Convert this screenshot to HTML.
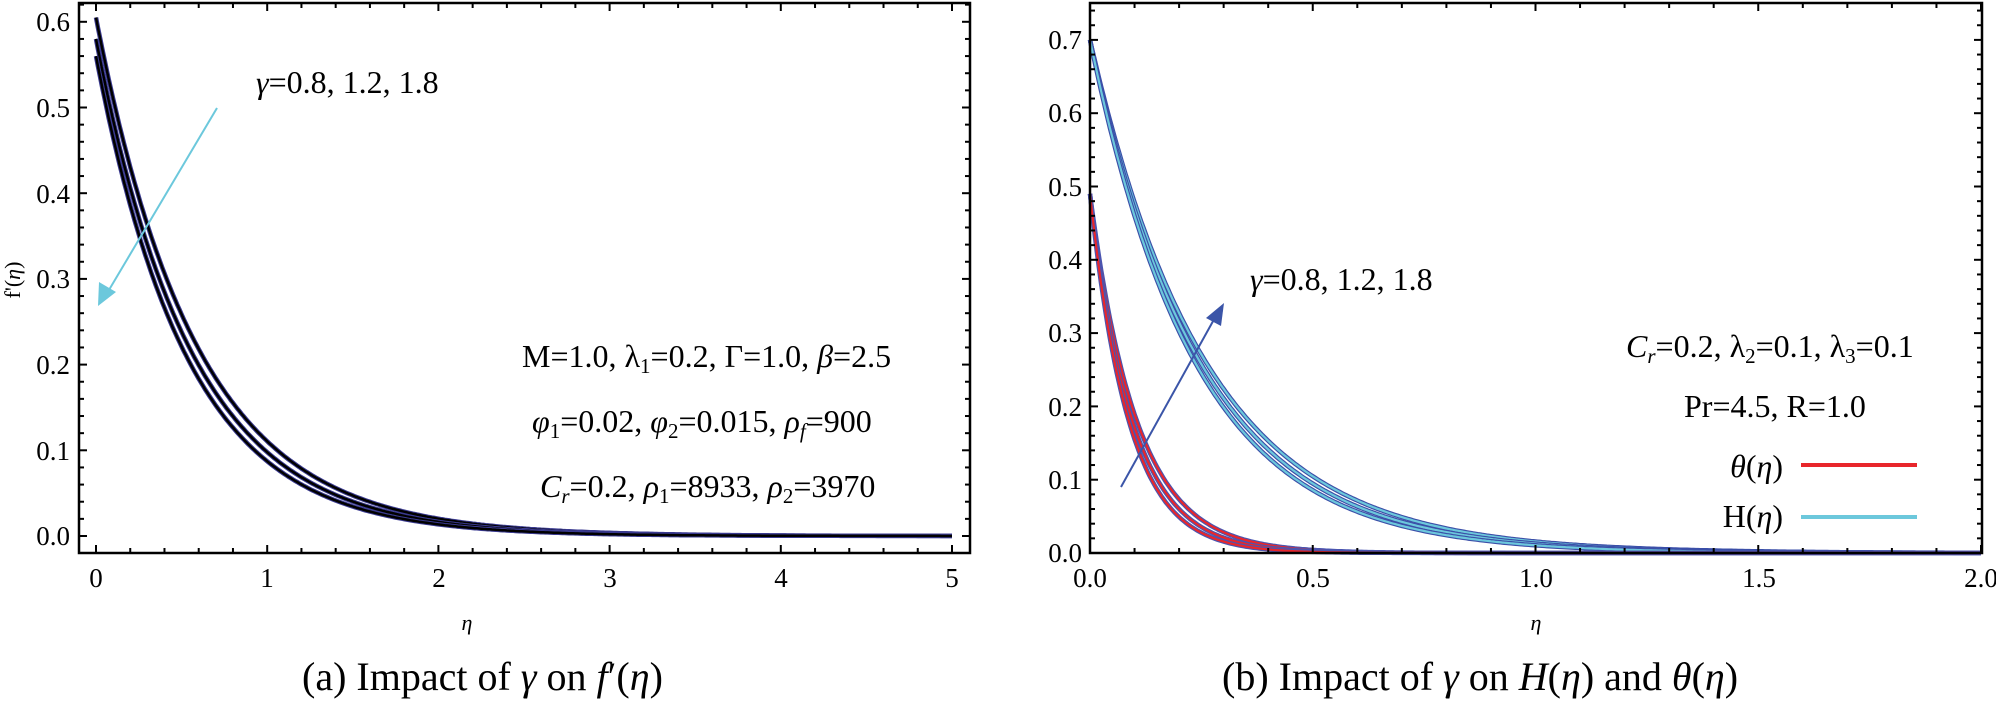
<!DOCTYPE html>
<html><head><meta charset="utf-8">
<style>
html,body{margin:0;padding:0;background:#fff;}
svg{display:block;}
text{font-family:"Liberation Serif","DejaVu Serif",serif;fill:#000;}
.tk{font-size:27px;}
.an{font-size:32px;}
.cap{font-size:40px;}
</style></head><body>
<svg id="s" width="1996" height="701" xmlns="http://www.w3.org/2000/svg">
<g id="curves"></g>
<g id="axes" stroke="#000" stroke-width="2" fill="none"></g>
<rect x="79" y="3" width="891" height="550" fill="none" stroke="#000" stroke-width="2.5"/>
<rect x="1090" y="3" width="892" height="550" fill="none" stroke="#000" stroke-width="2.5"/>
<g class="tk" text-anchor="end">
<text x="70" y="545">0.0</text><text x="70" y="460">0.1</text><text x="70" y="374">0.2</text>
<text x="70" y="288">0.3</text><text x="70" y="203">0.4</text><text x="70" y="117">0.5</text><text x="70" y="31">0.6</text>
</g>
<g class="tk" text-anchor="middle">
<text x="96" y="587">0</text><text x="267" y="587">1</text><text x="439" y="587">2</text>
<text x="610" y="587">3</text><text x="781" y="587">4</text><text x="952" y="587">5</text>
</g>
<text x="467" y="630" font-size="22" font-style="italic" text-anchor="middle">η</text>
<text transform="translate(20,280) rotate(-90)" font-size="22" text-anchor="middle">f'(<tspan font-style="italic">η</tspan>)</text>
<g class="tk" text-anchor="end">
<text x="1082" y="562">0.0</text><text x="1082" y="489">0.1</text><text x="1082" y="416">0.2</text>
<text x="1082" y="342">0.3</text><text x="1082" y="269">0.4</text><text x="1082" y="196">0.5</text>
<text x="1082" y="122">0.6</text><text x="1082" y="49">0.7</text>
</g>
<g class="tk" text-anchor="middle">
<text x="1090" y="587">0.0</text><text x="1313" y="587">0.5</text><text x="1536" y="587">1.0</text>
<text x="1759" y="587">1.5</text><text x="1981" y="587">2.0</text>
</g>
<text x="1536" y="630" font-size="22" font-style="italic" text-anchor="middle">η</text>
<text class="an" x="256" y="93"><tspan font-style="italic">γ</tspan>=0.8, 1.2, 1.8</text>
<text class="an" x="522" y="367">M=1.0, λ<tspan font-size="21" dy="6">1</tspan><tspan dy="-6">=0.2, Γ=1.0, </tspan><tspan font-style="italic">β</tspan>=2.5</text>
<text class="an" x="532" y="432"><tspan font-style="italic">φ</tspan><tspan font-size="21" dy="6">1</tspan><tspan dy="-6">=0.02, </tspan><tspan font-style="italic">φ</tspan><tspan font-size="21" dy="6">2</tspan><tspan dy="-6">=0.015, </tspan><tspan font-style="italic">ρ</tspan><tspan font-size="21" dy="6" font-style="italic">f</tspan><tspan dy="-6">=900</tspan></text>
<text class="an" x="540" y="497"><tspan font-style="italic">C</tspan><tspan font-size="21" dy="6" font-style="italic">r</tspan><tspan dy="-6">=0.2, </tspan><tspan font-style="italic">ρ</tspan><tspan font-size="21" dy="6">1</tspan><tspan dy="-6">=8933, </tspan><tspan font-style="italic">ρ</tspan><tspan font-size="21" dy="6">2</tspan><tspan dy="-6">=3970</tspan></text>
<text class="an" x="1250" y="290"><tspan font-style="italic">γ</tspan>=0.8, 1.2, 1.8</text>
<text class="an" x="1626" y="357"><tspan font-style="italic">C</tspan><tspan font-size="21" dy="6" font-style="italic">r</tspan><tspan dy="-6">=0.2, λ</tspan><tspan font-size="21" dy="6">2</tspan><tspan dy="-6">=0.1, λ</tspan><tspan font-size="21" dy="6">3</tspan><tspan dy="-6">=0.1</tspan></text>
<text class="an" x="1684" y="417">Pr=4.5, R=1.0</text>
<text class="an" x="1783" y="477" text-anchor="end"><tspan font-style="italic">θ</tspan>(<tspan font-style="italic">η</tspan>)</text>
<text class="an" x="1783" y="527" text-anchor="end">H(<tspan font-style="italic">η</tspan>)</text>
<line x1="1801" y1="465" x2="1917" y2="465" stroke="#e8262b" stroke-width="4"/>
<line x1="1801" y1="517" x2="1917" y2="517" stroke="#6cc8dc" stroke-width="4"/>
<line x1="217" y1="108" x2="106" y2="295" stroke="#6cc8dc" stroke-width="2"/>
<polygon points="98,306 99,282 116,292" fill="#6cc8dc"/>
<line x1="1121" y1="487" x2="1217" y2="314" stroke="#3b55a8" stroke-width="2"/>
<polygon points="1224,303 1206,318 1221,326" fill="#3b55a8"/>
<text class="cap" x="302" y="690">(a) Impact of <tspan font-style="italic">γ</tspan> on <tspan font-style="italic">f</tspan>′(<tspan font-style="italic">η</tspan>)</text>
<text class="cap" x="1222" y="690">(b) Impact of <tspan font-style="italic">γ</tspan> on <tspan font-style="italic">H</tspan>(<tspan font-style="italic">η</tspan>) and <tspan font-style="italic">θ</tspan>(<tspan font-style="italic">η</tspan>)</text>
</svg>
<script>
(function(){
var NS="http://www.w3.org/2000/svg";
var cg=document.getElementById("curves"), ag=document.getElementById("axes");
function el(p,t,a){var e=document.createElementNS(NS,t);for(var k in a)e.setAttribute(k,a[k]);p.appendChild(e);return e;}
function path(f,x0,x1,X,Y){var d="";for(var i=0;i<=400;i++){var x=x0+(x1-x0)*i/400;d+=(i?"L":"M")+X(x).toFixed(1)+","+Y(f(x)).toFixed(1);}return d;}
var LX=function(x){return 96+171.2*x}, LY=function(y){return 536-857*y};
[[0.605,1.70],[0.58,1.78],[0.56,1.86]].forEach(function(p){
 var d=path(function(x){return p[0]*Math.exp(-p[1]*x)},0,5,LX,LY);
 el(cg,"path",{d:d,stroke:"#3a3a90","stroke-width":4.5,fill:"none"});
 el(cg,"path",{d:d,stroke:"#000","stroke-width":2.5,fill:"none"});
});
var RX=function(x){return 1090+445.5*x}, RY=function(y){return 553-733*y};
[[0.70,3.8],[0.70,4.0],[0.70,4.2]].forEach(function(p){
 var d=path(function(x){return p[0]*Math.exp(-p[1]*x)},0,2,RX,RY);
 el(cg,"path",{d:d,stroke:"#3b4fa8","stroke-width":4.5,fill:"none"});
 el(cg,"path",{d:d,stroke:"#6cc8dc","stroke-width":2.2,fill:"none"});
});
[[0.49,9.5],[0.49,10.5],[0.49,11.5]].forEach(function(p){
 var d=path(function(x){return p[0]*Math.exp(-p[1]*x)},0,2,RX,RY);
 el(cg,"path",{d:d,stroke:"#4a55b0","stroke-width":4.5,fill:"none"});
 el(cg,"path",{d:d,stroke:"#e8262b","stroke-width":2.2,fill:"none"});
});
for(var i=0;i<=25;i++){var x=LX(i*0.2),L=(i%5==0)?8:5;
 el(ag,"line",{x1:x,y1:553,x2:x,y2:553-L});el(ag,"line",{x1:x,y1:3,x2:x,y2:3+L});}
for(var i=-1;i<=31;i++){var y=LY(i*0.02),L=(i%5==0)?8:5;if(y<3||y>553)continue;
 el(ag,"line",{x1:79,y1:y,x2:79+L,y2:y});el(ag,"line",{x1:970,y1:y,x2:970-L,y2:y});}
for(var i=0;i<=20;i++){var x=RX(i*0.1),L=(i%5==0)?8:5;
 el(ag,"line",{x1:x,y1:553,x2:x,y2:553-L});el(ag,"line",{x1:x,y1:3,x2:x,y2:3+L});}
for(var i=0;i<=37;i++){var y=RY(i*0.02),L=(i%5==0)?8:5;if(y<3)continue;
 el(ag,"line",{x1:1090,y1:y,x2:1090+L,y2:y});el(ag,"line",{x1:1982,y1:y,x2:1982-L,y2:y});}
})();
</script>
</body></html>
